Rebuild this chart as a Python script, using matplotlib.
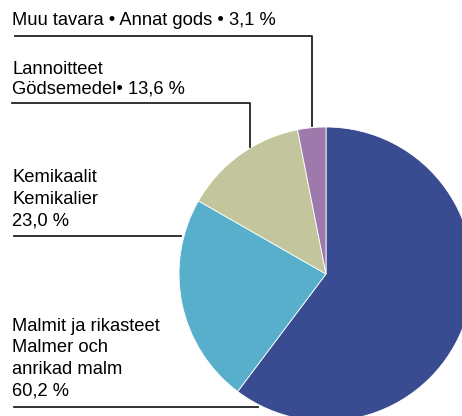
import matplotlib
matplotlib.use("Agg")
from matplotlib import pyplot as plt

plt.rcParams['font.family'] = ['Liberation Sans', 'DejaVu Sans']

labels = ["Malmit ja rikasteet\nMalmer och\nanrikad malm\n60,2 %",
          "Kemikaalit\nKemikalier\n23,0 %",
          "Lannoitteet\nGödsemedel• 13,6 %",
          "Muu tavara • Annat gods • 3,1 %"]
shares = [60.2, 23.0, 13.6, 3.1]
colors = ["#394B91", "#57AFCB", "#C3C69D", "#9E79AB"]

W, H = 462, 416
fig = plt.figure(figsize=(W / 100, H / 100), dpi=100)
ax = fig.add_axes([0, 0, 1, 1])
ax.set_xlim(0, W)
ax.set_ylim(0, H)
ax.set_aspect('equal')
ax.axis('off')

def py(y):
    # pixel row -> data y
    return H - y

ax.pie(shares, colors=colors, startangle=90, counterclock=False,
       center=(326, py(274)), radius=147, normalize=True,
       wedgeprops=dict(edgecolor='white', linewidth=0.6))
ax.set_xlim(0, W)
ax.set_ylim(0, H)

lc = '#222222'
lw = 1.3
# leader lines
ax.plot([14, 258], [py(406.5), py(406.5)], color=lc, lw=lw)
ax.plot([14, 181], [py(236), py(236)], color=lc, lw=lw)
ax.plot([12, 250, 250], [py(103), py(103), py(147)], color=lc, lw=lw)
ax.plot([15, 312, 312], [py(36), py(36), py(126)], color=lc, lw=lw)

fs = 13.2
ax.text(12, py(25), labels[3], fontsize=fs, va='baseline', ha='left')
ax.text(12, py(93), labels[2], fontsize=fs, va='baseline', ha='left', linespacing=1.12)
ax.text(12, py(226), labels[1], fontsize=fs, va='baseline', ha='left', linespacing=1.38)
ax.text(12, py(395), labels[0], fontsize=fs, va='baseline', ha='left', linespacing=1.33)

fig.savefig("out.png", dpi=100)
